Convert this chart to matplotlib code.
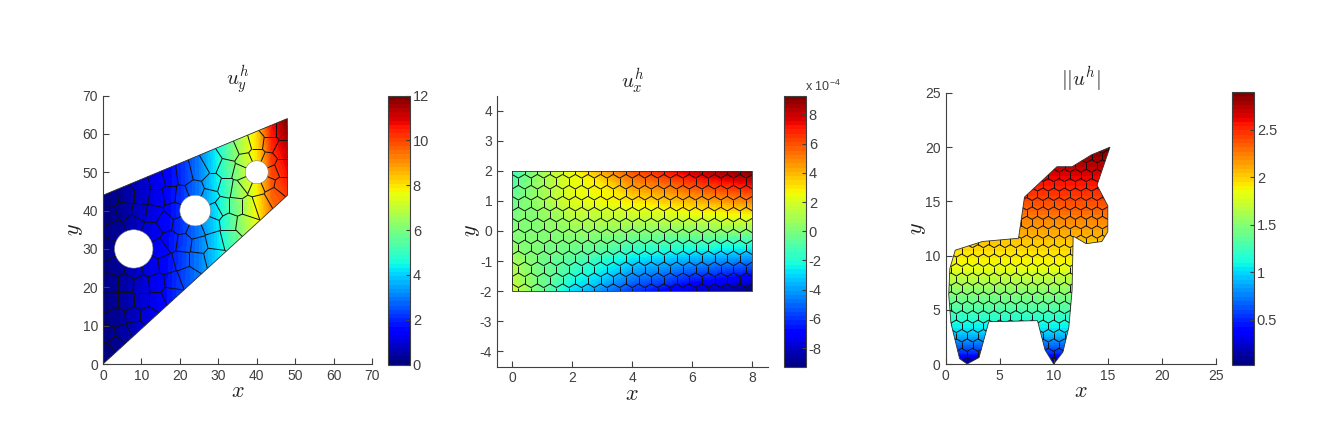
import numpy as np
import matplotlib
matplotlib.use('Agg')
import matplotlib.pyplot as plt
from matplotlib.collections import LineCollection
from matplotlib.colors import Normalize
from matplotlib.cm import ScalarMappable
from matplotlib.patches import Polygon, Circle
from matplotlib.tri import Triangulation

W, H = 1323, 443
TEXT = '#404040'

plt.rcParams['font.family'] = ['Liberation Sans', 'DejaVu Sans']
plt.rcParams['mathtext.fontset'] = 'cm'
plt.rcParams['axes.unicode_minus'] = False

# panel 1: plate with three holes
plate_outline = [(0, 0), (48, 44), (48, 64), (0, 44)]
plate_holes = [(8, 30, 5), (24, 40, 4), (40, 50, 3)]
plate_x = [0, 5, 10, 15, 20, 25, 30, 35, 40, 44, 48]
plate_y = [0, 20, 40, 64]
plate_u = [
    [0.0, 0.4, 0.9, 1.4, 2.2, 3.0, 4.0, 5.5, 7.0, 8.5, 9.3],
    [0.1, 0.4, 0.9, 1.4, 2.2, 3.0, 4.0, 5.5, 7.0, 8.5, 9.3],
    [0.05, 0.35, 0.85, 1.3, 2.0, 3.0, 4.3, 6.0, 7.7, 9.4, 9.8],
    [0.05, 0.3, 0.7, 1.2, 1.9, 3.0, 4.7, 6.5, 8.2, 10.8, 12.0],
]
plate_seeds = [
    (0.9, 3.5), (3, 5.5), (1.5, 7.5), (5, 8), (8.5, 9.5), (3.5, 12), (8, 12.5), (11.5, 12.5),
    (1.8, 16.5), (6, 16.5), (10, 16.5), (14, 16.5), (17.5, 18), (2, 21), (6, 21), (10, 20.5), (14, 21), (18, 21.5), (22, 23),
    (14.8, 30), (12.8, 34.8), (8, 36.8), (3.2, 34.8), (1.2, 30), (3.5, 25.5), (8, 24.5), (12.5, 25.5),
    (16.5, 26), (20.5, 27), (24.5, 27), (28.5, 28), (17.5, 32), (21, 31.5), (25, 31), (29, 32), (33, 33),
    (29.2, 40), (27.7, 43.7), (24, 45.2), (20.3, 43.7), (18.8, 40), (20.3, 36.3), (24, 34.8), (27.7, 36.3),
    (1.5, 39), (5.5, 40), (9.5, 39.5), (13, 39), (16, 37), (1.8, 43.5), (6, 44), (10, 44), (14, 43.5), (17.5, 44),
    (10, 47), (14, 48), (17.5, 49), (21, 49.5), (25, 50.5), (28.5, 47), (28.5, 52.5),
    (44, 50), (42.8, 52.8), (40, 54), (37.2, 52.8), (36, 50), (37.2, 47.2), (40, 46), (42.8, 47.2),
    (31, 41), (34.5, 41), (38, 41), (41, 42), (44.5, 44), (33, 37), (36.5, 36.5), (32, 46), (35, 45.5), (32, 51),
    (33, 55.5), (36.5, 57), (40, 58), (43.5, 57.5), (46.5, 61), (46.5, 56), (46.5, 51), (46.5, 46.5), (43.5, 61),
]

# panel 2: cantilever beam
beam_outline = [(0, -2), (8, -2), (8, 2), (0, 2)]
beam_x = [0, 1, 2, 4, 6, 8]
beam_y = [-2, -1, 0, 1, 2]
beam_u = [
    [1.8, -0.5, -3.0, -6.0, -8.0, -9.3],
    [1.0, -0.3, -1.0, -3.0, -4.0, -4.8],
    [0.0, 0.2, 0.5, 0.3, 0.2, 0.2],
    [-0.5, 0.8, 2.2, 3.0, 4.0, 5.0],
    [-1.5, 0.8, 2.5, 6.0, 8.0, 9.3],
]

# panel 3: donkey
donkey_outline = [
    (2, 0), (3.1, 0.6), (4, 3.9), (8.5, 4), (9.2, 1.3), (10, 0), (10.85, 1.1), (11.4, 3.4),
    (11.7, 6.8), (11.8, 11.8), (13, 11.1), (14.45, 11.3), (15, 12.2), (15, 14.6), (14, 16.5),
    (15.2, 20), (13.5, 19.3), (11.7, 18.2), (10.3, 18.2), (7.3, 15.4), (6.75, 11.6), (3.4, 11.3),
    (0.9, 10.5), (0.4, 8.8), (0.3, 6.4), (0.5, 3.8), (1.3, 0.5),
]
donkey_y = [0, 1, 2, 3, 4, 5, 7, 9, 11, 13, 15, 17, 20]
donkey_u = [0.02, 0.5, 0.75, 1.0, 1.15, 1.3, 1.55, 1.85, 2.0, 2.2, 2.4, 2.6, 2.9]


def add_axes(left, top, right, bottom):
    ax = fig.add_axes([left / W, 1 - bottom / H, (right - left) / W, (bottom - top) / H])
    ax.tick_params(labelsize=10, colors=TEXT, direction='in', length=4, width=0.8)
    for s in ax.spines.values():
        s.set_color(TEXT)
    return ax


def lattice(x0, x1, y0, y1, dx, dy):
    pts = []
    for i, y in enumerate(np.arange(y0, y1 + dy / 2, dy)):
        shift = dx / 2 if i % 2 else 0
        for x in np.arange(x0 - dx, x1 + dx, dx):
            pts.append((x + shift, y))
    return pts


def cell_edges(seeds):
    # edges of the voronoi cells from the delaunay triangles
    pts = np.array(seeds, dtype=float)
    tri = Triangulation(pts[:, 0], pts[:, 1])
    a, b, c = (pts[tri.triangles[:, k]] for k in range(3))
    d = 2 * (a[:, 0] * (b[:, 1] - c[:, 1]) + b[:, 0] * (c[:, 1] - a[:, 1]) + c[:, 0] * (a[:, 1] - b[:, 1]))
    sa, sb, sc = (a ** 2).sum(1), (b ** 2).sum(1), (c ** 2).sum(1)
    ux = (sa * (b[:, 1] - c[:, 1]) + sb * (c[:, 1] - a[:, 1]) + sc * (a[:, 1] - b[:, 1])) / d
    uy = (sa * (c[:, 0] - b[:, 0]) + sb * (a[:, 0] - c[:, 0]) + sc * (b[:, 0] - a[:, 0])) / d
    segs = []
    for t, nbrs in enumerate(tri.neighbors):
        for j, n in enumerate(nbrs):
            if n > t:
                segs.append([(ux[t], uy[t]), (ux[n], uy[n])])
            elif n == -1:
                p = pts[tri.triangles[t, j]]
                q = pts[tri.triangles[t, (j + 1) % 3]]
                far = 1000 * np.array([q[1] - p[1], p[0] - q[0]])
                segs.append([(ux[t], uy[t]), (ux[t] + far[0], uy[t] + far[1])])
    return segs


def draw_field(ax, outline, xs, ys, zs, norm, seeds):
    shape = Polygon(outline, closed=True, facecolor='none', edgecolor='#303030', linewidth=0.6, zorder=3)
    ax.add_patch(shape)
    cs = ax.contourf(xs, ys, zs, levels=np.linspace(norm.vmin, norm.vmax, 65), cmap=jet, norm=norm, extend='both')
    cs.set_clip_path(shape)
    lines = LineCollection(cell_edges(seeds), colors='#101010', linewidths=0.7, zorder=2)
    ax.add_collection(lines, autolim=False)
    lines.set_clip_path(shape)


def draw_colorbar(rect, norm, ticks):
    cax = add_axes(*rect)
    cb = fig.colorbar(ScalarMappable(norm=norm, cmap=jet), cax=cax)
    cb.set_ticks(ticks)
    cb.set_ticklabels([f'{t:g}' for t in ticks])
    cax.tick_params(direction='in', length=3, width=0.8, labelsize=10.5, colors=TEXT, pad=2)
    cb.outline.set_edgecolor(TEXT)
    cb.outline.set_linewidth(0.8)
    return cax


def finish(ax, title, xlim, ylim, xticks, yticks, pad):
    ax.set_xlim(xlim)
    ax.set_ylim(ylim)
    ax.set_xticks(xticks)
    ax.set_yticks(yticks)
    ax.spines['top'].set_visible(False)
    ax.spines['right'].set_visible(False)
    ax.set_title(title, fontsize=15, color='#202020', pad=pad)
    ax.set_xlabel('$x$', fontsize=16, color='#202020', labelpad=-1)
    ax.set_ylabel('$y$', fontsize=16, color='#202020', labelpad=-2)


jet = plt.get_cmap('jet', 64)
fig = plt.figure(figsize=(W / 100, H / 100), dpi=100)

# plate
norm1 = Normalize(0, 12)
ax1 = add_axes(103, 95.5, 372, 364)
draw_field(ax1, plate_outline, plate_x, plate_y, plate_u, norm1, plate_seeds)
for cx, cy, r in plate_holes:
    ax1.add_patch(Circle((cx, cy), r, facecolor='white', edgecolor='#808080', linewidth=0.4, zorder=4))
finish(ax1, '$u_y^h$', (0, 70), (0, 70), range(0, 71, 10), range(0, 71, 10), 2)
draw_colorbar((388, 95.5, 410, 364.5), norm1, list(range(0, 13, 2)))

# beam
norm2 = Normalize(-9.3, 9.3)
ax2 = add_axes(497, 95.5, 767.5, 366.5)
draw_field(ax2, beam_outline, beam_x, beam_y, beam_u, norm2, lattice(0, 8, -2, 2, 8 / 19, 4 / 11))
finish(ax2, '$u_x^h$', (-0.5, 8.5), (-4.5, 4.5), range(0, 9, 2), range(-4, 5), 4)
draw_colorbar((784, 95.5, 806, 367), norm2, list(range(-8, 9, 2)))
fig.text(805 / W, 1 - 94 / H, r'x 10$^{\mathregular{-4}}$', fontsize=9, color=TEXT, va='bottom')

# donkey
norm3 = Normalize(0.02, 2.9)
ax3 = add_axes(945.5, 93, 1216, 364)
donkey_table = [[u, u] for u in donkey_u]
draw_field(ax3, donkey_outline, [0, 25], donkey_y, donkey_table, norm3, lattice(0, 16, 0, 21, 1.0, 0.87))
finish(ax3, '$||u^h|$', (0, 25), (0, 25), range(0, 26, 5), range(0, 26, 5), 4)
draw_colorbar((1232, 92, 1254, 365), norm3, [0.5, 1, 1.5, 2, 2.5])

fig.savefig('out.png', dpi=100)
